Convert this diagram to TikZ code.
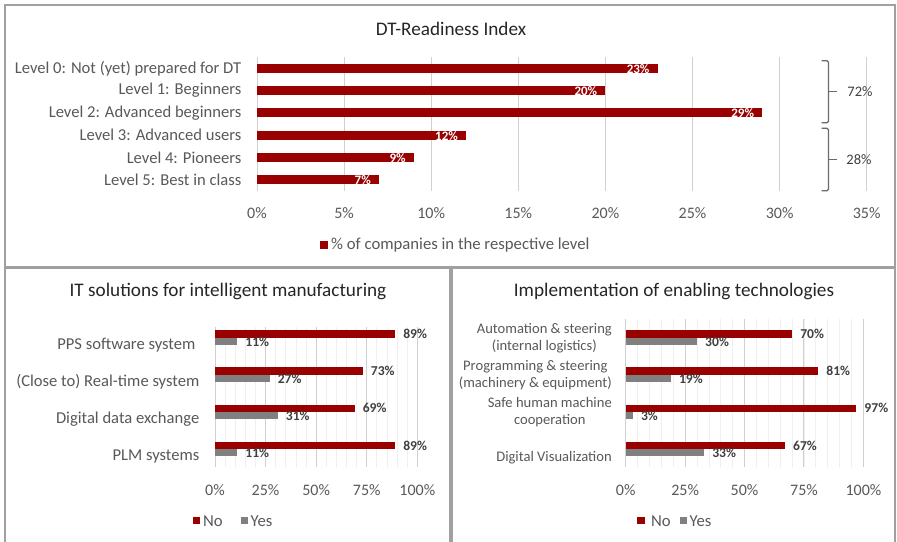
\documentclass[tikz,border=0pt]{standalone}
\usepackage{fontspec}
\setmainfont{Carlito}
\definecolor{barred}{HTML}{990000}
\definecolor{bargray}{HTML}{808080}
\definecolor{txtgray}{HTML}{595959}
\definecolor{dgray}{HTML}{404040}
\definecolor{gridmaj}{HTML}{D0D0D0}
\definecolor{gridmin}{HTML}{EFEFEF}
\definecolor{frame}{HTML}{A0A0A0}
\tikzset{
  x=1pt,y=-1pt,
  panel/.style={draw=frame,line width=1.4pt},
  title/.style={text=black!85,font=\fontsize{19.2}{22}\selectfont},
  cat/.style={text=txtgray,font=\fontsize{16.6}{19}\selectfont,anchor=east,inner sep=0pt},
  rcat/.style={text=txtgray,font=\fontsize{14.6}{17}\selectfont,anchor=east,inner sep=0pt,align=center},
  tick/.style={text=txtgray,font=\fontsize{16}{18}\selectfont,inner sep=0pt},
  major/.style={draw=gridmaj,line width=1pt},
  minor/.style={draw=gridmin,line width=0.8pt},
  nobar/.style={fill=barred},
  yesbar/.style={fill=bargray},
  inlab/.style={text=white,font=\bfseries\fontsize{13}{14}\selectfont,anchor=east,inner sep=0pt},
  outlab/.style={text=dgray,font=\bfseries\fontsize{13.6}{14}\selectfont,anchor=west,inner sep=0pt},
  legtxt/.style={text=txtgray,font=\fontsize{16.7}{18}\selectfont,anchor=west,inner sep=0pt},
  bracepath/.style={draw=txtgray!90,line width=1.2pt,rounded corners=1.5pt},
  bracelab/.style={text=dgray,font=\fontsize{14.5}{16}\selectfont,inner sep=0pt}
}
\begin{document}
\begin{tikzpicture}
\useasboundingbox (0,0) rectangle (897,541);
\fill[white] (0,0) rectangle (897,541);
% panels
\draw[panel] (5,5) rectangle (895,267);
\draw[panel] (5,268) rectangle (450,560);
\draw[panel] (452,268) rectangle (895,560);

% ===== Top chart =====
\node[title,font=\fontsize{19.2}{21}\selectfont] (t1) at (451,29) {DT-Readiness Index};
\foreach \p in {0,5,...,35} {
  \draw[major] ({257+\p*17.42},57) -- ({257+\p*17.42},191);
  \node[tick] (tk\p) at ({257+\p*17.42},213) {\p\%};
}
\foreach \v/\lab [count=\i from 0] in {23/Level 0: Not (yet) prepared for DT,20/Level 1: Beginners,29/Level 2: Advanced beginners,12/Level 3: Advanced users,9/Level 4: Pioneers,7/Level 5: Best in class} {
  \pgfmathsetmacro{\yc}{68.3+\i*22.3}
  \fill[nobar] (257,\yc-4.5) rectangle ({257+\v*17.42},\yc+4.5);
  \node[inlab] (bl\i) at ({257+\v*17.42-8},\yc+0.5) {\v\%};
  \node[cat] (cl\i) at (241.5,\yc) {\lab};
}
% braces
\draw[bracepath] (821.7,60.7) -- (828.5,60.7) -- (828.5,122.7) -- (821.7,122.7);
\draw[bracepath] (828.5,91.7) -- (836.7,91.7);
\draw[bracepath] (821.7,128.3) -- (828.5,128.3) -- (828.5,190.7) -- (821.7,190.7);
\draw[bracepath] (828.5,159.5) -- (836.7,159.5);
\node[bracelab] (b72) at (860,92) {72\%};
\node[bracelab] (b28) at (859,160) {28\%};
% legend
\fill[barred] (320,240.5) rectangle (328,248.5);
\node[legtxt] (lg1) at (331,245) {\% of companies in the respective level};

% ===== Bottom left chart =====
\node[title] (t2) at (228,291) {IT solutions for intelligent manufacturing};
\foreach \p in {5,10,...,95} {
  \draw[minor] ({215+\p*2.023},326.7) -- ({215+\p*2.023},466.7);
}
\foreach \p in {0,25,50,75,100} {
  \draw[major] ({215+\p*2.023},326.7) -- ({215+\p*2.023},466.7);
  \node[tick] (lt\p) at ({215+\p*2.023},490) {\p\%};
}
\foreach \n/\y/\lab [count=\i] in {89/11/PPS software system\hspace*{4pt},73/27/(Close to) Real-time system,69/31/Digital data exchange,89/11/PLM systems} {
  \pgfmathsetmacro{\yt}{330.3+(\i-1)*37.1}
  \fill[nobar] (215,\yt) rectangle ({215+\n*2.023},\yt+7.3);
  \fill[yesbar] (215,\yt+7.3) rectangle ({215+\y*2.023},\yt+14.6);
  \node[outlab] (ln\i) at ({215+\n*2.023+8},\yt+3.8) {\n\%};
  \node[outlab] (ly\i) at ({215+\y*2.023+8},\yt+11.3) {\y\%};
  \node[cat] (lc\i) at (199.5,\yt+14.5) {\lab};
}
\fill[barred] (192.7,516.7) rectangle (200,524);
\node[legtxt] (lgno) at (203,520.7) {No};
\fill[bargray] (240.7,516.7) rectangle (248,524);
\node[legtxt] (lgyes) at (250.5,520.7) {Yes};

% ===== Bottom right chart =====
\node[title] (t3) at (674,291) {Implementation of enabling technologies};
\foreach \p in {5,10,...,95} {
  \draw[minor] ({625.7+\p*2.377},319.3) -- ({625.7+\p*2.377},466.7);
}
\foreach \p in {0,25,50,75,100} {
  \draw[major] ({625.7+\p*2.377},319.3) -- ({625.7+\p*2.377},466.7);
  \node[tick] (rt\p) at ({625.7+\p*2.377},490) {\p\%};
}
\foreach \n/\y [count=\i] in {70/30,81/19,97/3,67/33} {
  \pgfmathsetmacro{\yt}{330.3+(\i-1)*37.1}
  \fill[nobar] (625.7,\yt) rectangle ({625.7+\n*2.377},\yt+7.3);
  \fill[yesbar] (625.7,\yt+7.3) rectangle ({625.7+\y*2.377},\yt+14.6);
  \node[outlab] (rn\i) at ({625.7+\n*2.377+8},\yt+3.8) {\n\%};
  \node[outlab] (ry\i) at ({625.7+\y*2.377+8},\yt+11.3) {\y\%};
}
\node[rcat] (rc1) at (612,338.5) {Automation \& steering\\(internal logistics)};
\node[rcat] (rc2) at (612,375.5) {Programming \& steering\\(machinery \& equipment)};
\node[rcat] (rc3) at (612,412.5) {Safe human machine\\cooperation};
\node[rcat] (rc4) at (612,457.8) {Digital Visualization};
\fill[barred] (637.3,516.7) rectangle (644.6,524);
\node[legtxt] (rgno) at (651,520.7) {No};
\fill[bargray] (680,516.7) rectangle (687.3,524);
\node[legtxt] (rgyes) at (689.5,520.7) {Yes};
\end{tikzpicture}
\end{document}
